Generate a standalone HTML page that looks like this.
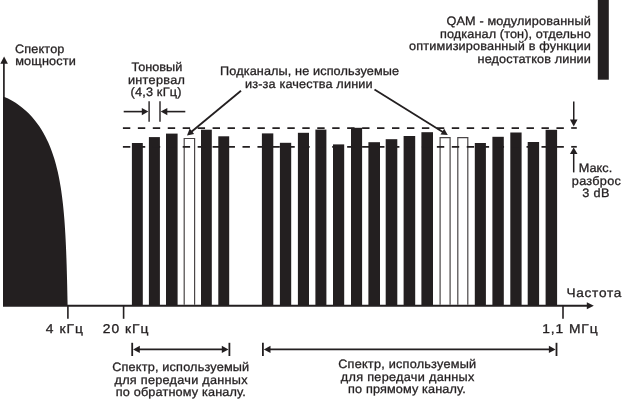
<!DOCTYPE html>
<html><head><meta charset="utf-8"><style>
html,body{margin:0;padding:0;background:#fff;width:622px;height:400px;overflow:hidden}
svg{display:block}
text{text-rendering:geometricPrecision;font-family:"Liberation Sans",sans-serif;fill:#231f20;stroke:#231f20;stroke-width:0.3px}
svg{transform:translateZ(0)}
</style></head><body>
<svg width="622" height="400" viewBox="0 0 622 400">
<path d="M3.50,96.80 L4.42,96.97 L5.68,97.46 L7.56,98.29 L9.91,99.44 L12.60,100.93 L15.55,102.75 L18.69,104.90 L21.94,107.38 L25.24,110.19 L28.56,113.33 L31.84,116.80 L34.73,120.20 L37.20,123.40 L39.45,126.59 L41.52,129.79 L43.42,132.99 L45.17,136.19 L46.78,139.39 L48.27,142.59 L49.65,145.78 L50.93,148.98 L52.11,152.18 L53.21,155.38 L54.23,158.58 L55.18,161.78 L56.06,164.97 L56.87,168.17 L57.63,171.37 L58.34,174.57 L59.00,177.77 L59.61,180.97 L60.18,184.16 L60.70,187.36 L61.20,190.56 L61.65,193.76 L62.08,196.96 L62.48,200.16 L62.85,203.35 L63.19,206.55 L63.51,209.75 L63.81,212.95 L64.09,216.15 L64.35,219.35 L64.59,222.54 L64.81,225.74 L65.02,228.94 L65.22,232.14 L65.40,235.34 L65.57,238.54 L65.73,241.73 L65.88,244.93 L66.02,248.13 L66.16,251.33 L66.28,254.53 L66.40,257.73 L66.51,260.92 L66.61,264.12 L66.71,267.32 L66.80,270.52 L66.89,273.72 L66.97,276.92 L67.06,280.11 L67.13,283.31 L67.21,286.51 L67.28,289.71 L67.35,292.91 L67.41,296.11 L67.48,299.30 L67.54,302.50 L67.60,305.70 L3,305.7 L3,96.8 Z" fill="#231f20"/>
<rect x="131.90" y="143.00" width="10.90" height="162.80" fill="#231f20"/>
<rect x="148.90" y="137.10" width="11.00" height="168.70" fill="#231f20"/>
<rect x="166.00" y="133.60" width="11.60" height="172.20" fill="#231f20"/>
<path d="M184.20,304.80 L184.20,138.50 L194.60,138.50 L194.60,304.80" fill="none" stroke="#4a4647" stroke-width="1.2"/>
<rect x="201.00" y="129.70" width="10.80" height="176.10" fill="#231f20"/>
<rect x="218.30" y="136.30" width="10.90" height="169.50" fill="#231f20"/>
<rect x="261.90" y="133.40" width="11.40" height="172.40" fill="#231f20"/>
<rect x="279.90" y="142.80" width="11.30" height="163.00" fill="#231f20"/>
<rect x="297.90" y="132.80" width="11.10" height="173.00" fill="#231f20"/>
<rect x="315.40" y="129.60" width="11.00" height="176.20" fill="#231f20"/>
<rect x="333.00" y="144.40" width="11.20" height="161.40" fill="#231f20"/>
<rect x="351.00" y="127.80" width="11.10" height="178.00" fill="#231f20"/>
<rect x="368.40" y="142.20" width="11.60" height="163.60" fill="#231f20"/>
<rect x="385.70" y="139.20" width="11.60" height="166.60" fill="#231f20"/>
<rect x="403.60" y="136.00" width="11.60" height="169.80" fill="#231f20"/>
<rect x="421.40" y="132.20" width="11.60" height="173.60" fill="#231f20"/>
<path d="M440.10,304.80 L440.10,137.55 L450.10,137.55 L450.10,304.80" fill="none" stroke="#4a4647" stroke-width="1.2"/>
<path d="M457.80,304.80 L457.80,137.55 L467.80,137.55 L467.80,304.80" fill="none" stroke="#4a4647" stroke-width="1.2"/>
<rect x="474.80" y="143.00" width="11.10" height="162.80" fill="#231f20"/>
<rect x="492.40" y="136.80" width="11.40" height="169.00" fill="#231f20"/>
<rect x="510.30" y="132.50" width="11.30" height="173.30" fill="#231f20"/>
<rect x="527.70" y="142.00" width="11.40" height="163.80" fill="#231f20"/>
<rect x="545.60" y="129.80" width="11.50" height="176.00" fill="#231f20"/>
<line x1="122.9" y1="128.1" x2="564.2" y2="128.1" stroke="#231f20" stroke-width="1.6" stroke-dasharray="7.4 7.55"/>
<line x1="122.9" y1="146.9" x2="564.2" y2="146.9" stroke="#231f20" stroke-width="1.6" stroke-dasharray="7.4 7.55"/>
<line x1="3.9" y1="62" x2="3.9" y2="306" stroke="#231f20" stroke-width="1.7"/>
<path d="M4.1,56.5 L7.9,63.8 L0.3,63.8 Z" fill="#231f20"/>
<line x1="3" y1="305.8" x2="589" y2="305.8" stroke="#231f20" stroke-width="2.0"/>
<path d="M593.8,305.8 L586.8,302.3 L586.8,309.3 Z" fill="#231f20"/>
<line x1="67.9" y1="305.8" x2="67.9" y2="318.8" stroke="#231f20" stroke-width="1.6"/>
<line x1="123.6" y1="305.8" x2="123.6" y2="318.8" stroke="#231f20" stroke-width="1.6"/>
<line x1="563.0" y1="305.8" x2="563.0" y2="318.8" stroke="#231f20" stroke-width="1.6"/>
<rect x="597.8" y="0" width="11" height="79.7" fill="#231f20"/>
<line x1="149.1" y1="101.2" x2="149.1" y2="121.8" stroke="#231f20" stroke-width="1.4"/>
<line x1="160.0" y1="101.2" x2="160.0" y2="121.8" stroke="#231f20" stroke-width="1.4"/>
<line x1="123.7" y1="111.6" x2="143" y2="111.6" stroke="#231f20" stroke-width="1.6"/>
<path d="M148.4,111.6 L141.8,108.0 L141.8,115.2 Z" fill="#231f20"/>
<line x1="167" y1="111.6" x2="185.3" y2="111.6" stroke="#231f20" stroke-width="1.6"/>
<path d="M160.7,111.6 L167.3,108.0 L167.3,115.2 Z" fill="#231f20"/>
<line x1="241" y1="90.7" x2="191.16" y2="131.96" stroke="#231f20" stroke-width="1.8"/>
<path d="M187.00,135.40 L189.70,128.62 L194.16,134.02 Z" fill="#231f20"/>
<line x1="374.5" y1="89.4" x2="443.21" y2="132.15" stroke="#231f20" stroke-width="1.8"/>
<path d="M447.80,135.00 L440.52,134.59 L444.21,128.65 Z" fill="#231f20"/>
<line x1="573.75" y1="101.6" x2="573.75" y2="120.60" stroke="#231f20" stroke-width="1.5"/>
<path d="M573.75,126.60 L569.95,119.60 L577.55,119.60 Z" fill="#231f20"/>
<line x1="571.2" y1="128.0" x2="576.8" y2="128.0" stroke="#231f20" stroke-width="1.7"/>
<line x1="573.7" y1="172.4" x2="573.70" y2="153.10" stroke="#231f20" stroke-width="1.5"/>
<path d="M573.70,147.60 L577.50,154.10 L569.90,154.10 Z" fill="#231f20"/>
<line x1="571.2" y1="146.8" x2="576.8" y2="146.8" stroke="#231f20" stroke-width="1.7"/>
<line x1="132.2" y1="342.8" x2="132.2" y2="356" stroke="#231f20" stroke-width="1.8"/>
<line x1="229.4" y1="342.8" x2="229.4" y2="356" stroke="#231f20" stroke-width="1.8"/>
<line x1="137.2" y1="349.4" x2="224.4" y2="349.4" stroke="#231f20" stroke-width="1.8"/>
<path d="M133.1,349.4 L139.79999999999998,345.7 L139.79999999999998,353.09999999999997 Z" fill="#231f20"/>
<path d="M228.5,349.4 L221.8,345.7 L221.8,353.09999999999997 Z" fill="#231f20"/>
<line x1="262.9" y1="342.8" x2="262.9" y2="356" stroke="#231f20" stroke-width="1.8"/>
<line x1="556.5" y1="342.8" x2="556.5" y2="356" stroke="#231f20" stroke-width="1.8"/>
<line x1="267.9" y1="349.4" x2="551.5" y2="349.4" stroke="#231f20" stroke-width="1.8"/>
<path d="M263.79999999999995,349.4 L270.5,345.7 L270.5,353.09999999999997 Z" fill="#231f20"/>
<path d="M555.6,349.4 L548.9,345.7 L548.9,353.09999999999997 Z" fill="#231f20"/>
<text transform="translate(446.40,24.9) scale(1.04,1)" font-size="12.2" textLength="138.85" lengthAdjust="spacing">QAM - модулированный</text>
<text transform="translate(440.00,37.65) scale(1.04,1)" font-size="12.2" textLength="145.00" lengthAdjust="spacing">подканал (тон), отдельно</text>
<text transform="translate(409.10,50.4) scale(1.04,1)" font-size="12.2" textLength="174.71" lengthAdjust="spacing">оптимизированный в функции</text>
<text transform="translate(477.60,63.15) scale(1.04,1)" font-size="12.2" textLength="108.85" lengthAdjust="spacing">недостатков линии</text>
<text transform="translate(14.90,52.8) scale(1.04,1)" font-size="12.2" textLength="47.60" lengthAdjust="spacing">Спектор</text>
<text transform="translate(15.25,64.9) scale(1.04,1)" font-size="12.2" textLength="58.22" lengthAdjust="spacing">мощности</text>
<text transform="translate(131.40,71.0) scale(1.04,1)" font-size="12.2" textLength="48.94" lengthAdjust="spacing">Тоновый</text>
<text transform="translate(127.90,83.6) scale(1.04,1)" font-size="12.2" textLength="54.81" lengthAdjust="spacing">интервал</text>
<text transform="translate(130.50,96.2) scale(1.04,1)" font-size="12.2" textLength="48.94" lengthAdjust="spacing">(4,3 кГц)</text>
<text transform="translate(220.10,75.1) scale(1.04,1)" font-size="12.2" textLength="172.12" lengthAdjust="spacing">Подканалы, не используемые</text>
<text transform="translate(245.00,87.9) scale(1.04,1)" font-size="12.2" textLength="122.69" lengthAdjust="spacing">из-за качества линии</text>
<text transform="translate(578.80,172.4) scale(1.04,1)" font-size="12.2" textLength="32.12" lengthAdjust="spacing">Макс.</text>
<text transform="translate(571.80,184.8) scale(1.04,1)" font-size="12.2" textLength="47.21" lengthAdjust="spacing">разброс</text>
<text transform="translate(582.30,197.20000000000002) scale(1.04,1)" font-size="12.2" textLength="26.15" lengthAdjust="spacing">3 dB</text>
<text transform="translate(45.80,333.2) scale(1.08,1)" font-size="12.8" textLength="34.44" lengthAdjust="spacing">4 кГц</text>
<text transform="translate(102.80,333.2) scale(1.08,1)" font-size="12.8" textLength="42.31" lengthAdjust="spacing">20 кГц</text>
<text transform="translate(542.30,333.2) scale(1.08,1)" font-size="12.8" textLength="51.20" lengthAdjust="spacing">1,1 МГц</text>
<text transform="translate(566.50,296.5) scale(1.1,1)" font-size="12.4" textLength="49.82" lengthAdjust="spacing">Частота</text>
<text transform="translate(112.20,371.2) scale(1.04,1)" font-size="12.2" textLength="131.73" lengthAdjust="spacing">Спектр, используемый</text>
<text transform="translate(114.50,384.0) scale(1.04,1)" font-size="12.2" textLength="127.98" lengthAdjust="spacing">для передачи данных</text>
<text transform="translate(115.80,396.4) scale(1.04,1)" font-size="12.2" textLength="125.00" lengthAdjust="spacing">по обратному каналу.</text>
<text transform="translate(338.20,368.3) scale(1.04,1)" font-size="12.2" textLength="132.60" lengthAdjust="spacing">Спектр, используемый</text>
<text transform="translate(340.80,380.7) scale(1.04,1)" font-size="12.2" textLength="128.37" lengthAdjust="spacing">для передачи данных</text>
<text transform="translate(348.10,393.1) scale(1.04,1)" font-size="12.2" textLength="113.17" lengthAdjust="spacing">по прямому каналу.</text>
</svg>
</body></html>
